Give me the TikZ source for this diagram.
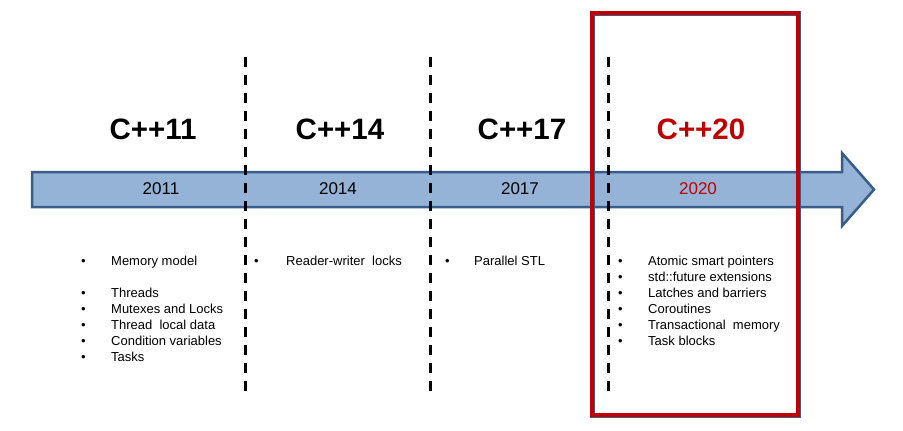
\documentclass[tikz,border=0pt]{standalone}
\usepackage{fontspec}
\setmainfont{Liberation Sans}
\usetikzlibrary{positioning}
\usepackage{xcolor}
\definecolor{setafundo}{RGB}{149, 179, 215}
\definecolor{setaborda}{RGB}{56, 93, 138}
\definecolor{vermelhoescuro}{RGB}{192, 0, 0}

\begin{document}
\begin{tikzpicture}[
                x=1pt, y=-1pt,
                title/.style={font=\fontsize{29.5}{31}\selectfont\bfseries, inner sep=0pt},
                year/.style={font=\fontsize{17}{19}\selectfont, inner sep=0pt},
                itemlist/.style={anchor=north west, inner sep=0pt, align=left,
                    font=\fontsize{13}{16}\selectfont},
                separator/.style={line width=3pt, dash pattern=on 10pt off 8pt},
                timeline/.style={fill=setafundo, draw=setaborda, line width=2.5pt, line join=miter}
            ]
                \useasboundingbox (0,0) rectangle (903,431);
                % seta do tempo
                \draw[timeline] (32,172) -- (842,172) -- (842,153) -- (874,189.5)
                    -- (842,226) -- (842,207) -- (32,207) -- cycle;
                % separadores
                \draw[separator] (245,57) -- (245,392);
                \draw[separator] (430,57) -- (430,392);
                \draw[separator] (608,57) -- (608,392);
                % destaque C++20
                \draw[setaborda, line width=5pt] (592,13) rectangle (798,415);
                \draw[vermelhoescuro, line width=3.6pt] (592,13) rectangle (798,415);
                % versoes
                \node[title] (cpp11) at (153,129) {C++11};
                \node[title] (cpp14) at (340,129) {C++14};
                \node[title] (cpp17) at (522,129) {C++17};
                \node[title, text=vermelhoescuro] (cpp20) at (701,129) {C++20};
                % anos
                \node[year] (y11) at (161,189) {2011};
                \node[year] (y14) at (338,189) {2014};
                \node[year] (y17) at (520,189) {2017};
                \node[year, text=vermelhoescuro] (y20) at (698,189) {2020};
                % listas
                \node[itemlist] (list11) at (81,254) {%
                    \begin{tabular}{@{}p{30pt}@{}l@{}}
                    • & Memory model\\
                      & \\
                    • & Threads\\
                    • & Mutexes and Locks\\
                    • & Thread\ \ local data\\
                    • & Condition variables\\
                    • & Tasks
                    \end{tabular}};
                \node[itemlist] (list14) at (254,254) {%
                    \begin{tabular}{@{}p{32pt}@{}l@{}}
                    • & Reader-writer\ \ locks
                    \end{tabular}};
                \node[itemlist] (list17) at (445,254) {%
                    \begin{tabular}{@{}p{29pt}@{}l@{}}
                    • & Parallel STL
                    \end{tabular}};
                \node[itemlist] (list20) at (618,254) {%
                    \begin{tabular}{@{}p{30pt}@{}l@{}}
                    • & Atomic smart pointers\\
                    • & std::future extensions\\
                    • & Latches and barriers\\
                    • & Coroutines\\
                    • & Transactional\ \ memory\\
                    • & Task blocks
                    \end{tabular}};
            \end{tikzpicture}
\end{document}
